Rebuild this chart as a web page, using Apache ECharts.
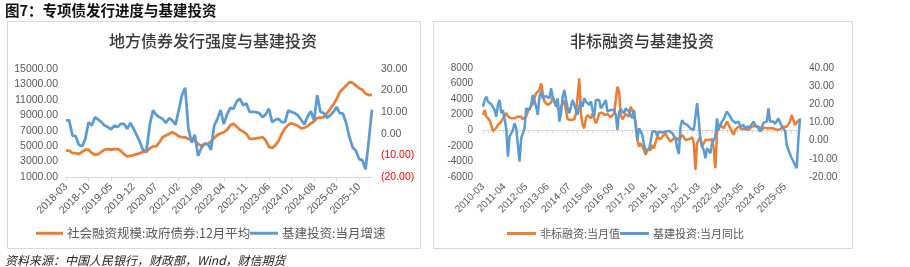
<!DOCTYPE html>
<html><head><meta charset="utf-8">
<script src="https://cdn.jsdelivr.net/npm/echarts@6/dist/echarts.min.js"></script>
<style>html,body{margin:0;padding:0;background:#fff}#c{width:910px;height:267px}</style>
</head><body><div id="c"></div>
<script>
// ---------- data ----------
function monthLabels(y, m, n) {
  const out = [];
  for (let k = 0; k < n; k++) {
    const mm = m - 1 + k;
    const yy = y + Math.floor(mm / 12);
    const mo = (mm % 12) + 1;
    out.push(yy + '-' + (mo < 10 ? '0' : '') + mo);
  }
  return out;
}
const leftCategories = monthLabels(2018, 3, 96);   // 2018-03 .. 2026-02
// right-chart category sequence as shown by its tick labels (2020-01/02 absent)
const rightCategories = [].concat(
  monthLabels(2010, 3, 118),  // 2010-03 .. 2019-12
  monthLabels(2020, 3, 12),   // 2020-03 .. 2021-02
  monthLabels(2021, 3, 13),   // 2021-03 .. 2022-03
  monthLabels(2022, 4, 13),   // 2022-04 .. 2023-04
  monthLabels(2023, 5, 13),   // 2023-05 .. 2024-05
  monthLabels(2024, 5, 13),   // 2024-05 .. 2025-05
  monthLabels(2025, 5, 10)    // 2025-05 .. 2026-02
);

// 社会融资规模:政府债券:12月平均 (left axis, 亿元)
const govBond12mAvg = [
  4405,4405,4100,4100,3970,4270,4540,4540,4100,3880,
  3970,4270,4540,4620,4540,4620,4620,4405,3970,3660,
  3750,3840,3970,4100,4270,4270,4710,4970,4970,5500,
  6150,6370,6585,6800,6585,6280,6150,6150,5930,5840,
  5710,5280,5060,5280,5280,5580,6050,6450,6650,6800,
  7100,7700,7890,7500,7110,6900,6600,5950,5930,6000,
  6060,6150,5750,4900,4750,5100,5700,6600,7300,7750,
  7980,7800,7650,7300,7370,7600,7950,8200,8680,8680,
  8760,9250,9800,10400,11100,12000,12450,12850,13300,13200,
  12850,12500,12300,11800,11650,11600
];
// 基建投资:当月增速 (right axis, %)
const infraGrowthLeft = [
  6.2,6.2,-0.8,-1.1,-5.2,-5.8,-2.4,5.4,3.8,7.7,
  6.6,5.4,3.8,3.1,2.0,3.8,3.1,4.6,4.6,2.3,
  5.0,2.3,-0.8,-4.0,-7.8,-7.5,4.0,10.9,8.8,7.7,
  6.9,5.0,7.2,6.2,4.2,10.9,17.9,21.3,2.3,-4.0,
  -0.5,-10.2,-6.7,-4.7,-4.7,-7.4,3.8,6.9,11.0,4.5,
  9.0,12.0,11.6,15.0,16.3,13.2,14.0,10.1,10.1,10.0,
  9.6,7.7,9.0,11.6,5.4,6.5,6.9,5.4,5.4,10.8,
  10.1,9.6,8.5,6.5,4.3,8.0,10.5,6.2,17.9,10.1,
  9.6,7.4,8.5,10.1,12.4,9.6,9.3,4.9,-1.6,-6.3,
  -7.8,-11.7,-12.2,-16.4,-3.2,11.2
];
// 非标融资:当月值 (left axis, 亿元)
const nonStandardMonthly = [
  1965,2600,1750,1500,1300,600,-100,0,300,700,
  900,1100,1300,1900,2200,1800,1750,1550,1500,1550,
  1700,1750,1900,1750,1400,1540,1750,2390,2820,3030,
  3380,4100,4750,4960,5180,6030,4750,3680,3460,3250,
  3460,3550,4320,4190,3250,2950,2610,3030,3460,3800,
  2610,1410,1200,1320,1320,1410,2180,4320,6670,2180,
  680,250,1540,1960,1750,1540,2180,1960,900,1410,
  2180,2390,2260,1960,1750,2090,1960,1660,1410,2180,
  3890,5600,4960,1960,1410,1540,2090,1960,1750,3030,
  2610,1750,1110,-1250,-2100,-1670,-1890,-2530,-3170,-2530,
  -2320,-2530,-1890,-2320,-2530,-820,-1030,-1160,-820,-600,
  -390,-900,-1160,-1460,-1670,-1030,-820,-1030,-1330,-1160,
  -600,-900,-1250,-1030,-1160,-1250,-900,-1670,-5100,-1670,
  -1160,-900,-2100,-1890,-1250,-1070,-1250,-1460,-1160,-2320,
  -4880,-180,250,680,900,250,680,1110,680,250,
  -180,-600,40,250,470,250,130,40,250,250,
  40,250,470,250,550,680,470,250,40,380,
  470,250,470,250,40,250,130,40,40,130,
  250,470,470,470,680,1110,1960,1320,680,680,
  1240,1320
];
// 基建投资:当月同比 (right axis, %)
const infraYoY = [
  18.7,22.4,24.2,21.5,20.6,20.0,19.7,16.9,13.2,19.7,
  22.4,15.1,16.9,16.9,6.8,-8.8,2.2,3.2,5.9,9.6,
  6.8,-2.3,-11.5,1.3,4.1,6.8,17.8,18.7,16.9,19.7,
  25.2,26.1,18.7,14.2,24.2,27.0,23.3,22.4,24.6,24.2,
  23.3,28.8,24.2,21.5,18.7,23.3,10.5,15.1,24.2,27.9,
  22.4,17.8,15.1,18.7,22.4,23.3,16.9,14.2,18.7,21.5,
  18.7,23.3,21.5,20.6,19.7,21.5,16.9,13.2,22.4,23.3,
  22.4,17.8,18.7,20.6,22.4,16.0,16.0,16.9,17.8,16.9,
  14.2,5.9,16.0,17.3,16.9,15.1,17.8,16.9,16.0,16.9,
  12.3,16.9,7.7,0.4,6.8,5.9,3.2,-2.3,-5.1,-5.1,
  -4.7,-0.5,5.0,5.5,5.0,2.6,5.0,5.5,4.4,5.0,
  5.0,5.9,5.4,4.4,4.1,5.0,1.3,-4.2,-7.3,7.7,
  11.4,9.6,8.7,8.7,7.7,6.8,6.8,5.9,5.9,20.6,
  11.4,0.4,-3.3,-5.1,-9.7,-4.2,-4.2,-6.9,-1.4,-2.3,
  2.2,12.3,5.9,8.7,10.5,11.8,14.2,16.0,16.9,13.2,
  11.4,11.8,9.6,9.9,10.5,7.7,8.1,8.7,5.9,7.7,
  8.7,7.7,8.7,10.5,8.7,8.1,6.8,5.0,7.7,9.9,
  9.2,10.5,17.8,10.5,9.9,10.5,9.2,9.6,12.3,9.9,
  8.1,7.7,5.5,-2.3,-5.1,-7.3,-9.7,-11.5,-13.3,-15.2,
  0.4,12.3
];

const figTitle = '图7：专项债发行进度与基建投资';
const leftTitle = '地方债券发行强度与基建投资';
const rightTitle = '非标融资与基建投资';
const sourceText = '资料来源：中国人民银行，财政部，Wind，财信期货';
const seriesNames = ['社会融资规模:政府债券:12月平均', '基建投资:当月增速', '非标融资:当月值', '基建投资:当月同比'];

// ---------- chart ----------
const ORANGE = '#ED7D31', BLUE = '#5B9BD5', GRAY = '#595959', LINE = '#D9D9D9';
const NUM = "'Liberation Sans', Arial, sans-serif";
const CJK = "'Noto Sans CJK SC', 'Noto Sans', sans-serif";

const chart = echarts.init(document.getElementById('c'), null, { renderer: 'canvas', width: 910, height: 267 });

function legendAt(name, left, top, fs, w) {
  return {
    data: [name], left: left, top: top, orient: 'horizontal',
    icon: 'rect', itemWidth: w, itemHeight: 3, itemGap: 0, padding: 0,
    textStyle: { color: GRAY, fontSize: fs, fontFamily: CJK, padding: [0, 0, 0, -1] },
    selectedMode: false
  };
}

const option = {
  animation: false,
  backgroundColor: '#fff',
  graphic: [
    { type: 'rect', shape: { x: 7.5, y: 21.5, width: 413, height: 227 }, style: { fill: 'none', stroke: LINE, lineWidth: 1 }, silent: true },
    { type: 'rect', shape: { x: 433.5, y: 21.5, width: 419, height: 227 }, style: { fill: 'none', stroke: LINE, lineWidth: 1 }, silent: true },
    { type: 'text', left: 5, top: 3, style: { text: figTitle, fill: '#111', font: "bold 14.5px 'Noto Sans CJK SC', sans-serif" } },
    { type: 'text', x: 213, y: 41, style: { text: leftTitle, fill: '#3a3a3a', font: "500 16px 'Noto Sans CJK SC', sans-serif", textAlign: 'center', textVerticalAlign: 'middle' } },
    { type: 'text', x: 642, y: 41, style: { text: rightTitle, fill: '#3a3a3a', font: "500 16px 'Noto Sans CJK SC', sans-serif", textAlign: 'center', textVerticalAlign: 'middle' } },
    { type: 'text', x: 5, y: 260, style: { text: sourceText, fill: '#222', font: "italic 12px 'Noto Sans CJK SC', sans-serif", textVerticalAlign: 'middle' } }
  ],
  legend: [
    legendAt(seriesNames[0], 36, 227, 12.5, 27),
    legendAt(seriesNames[1], 250, 227, 12.5, 28),
    legendAt(seriesNames[2], 507, 228, 11, 29),
    legendAt(seriesNames[3], 620, 228, 11, 29)
  ],
  grid: [
    { left: 66, top: 69, width: 306, height: 108, containLabel: false },
    { left: 483, top: 68, width: 317, height: 109, containLabel: false }
  ],
  xAxis: [
    {
      type: 'category', gridIndex: 0, data: leftCategories, boundaryGap: false, position: 'bottom',
      axisLine: { onZero: false, lineStyle: { color: LINE, width: 1 } },
      axisTick: { show: true, interval: 6, length: 4, lineStyle: { color: LINE } },
      axisLabel: { interval: 6, rotate: 45, margin: 8, color: GRAY, fontSize: 10.5, fontFamily: NUM },
      splitLine: { show: false }
    },
    {
      type: 'category', gridIndex: 1, data: rightCategories, boundaryGap: false, position: 'bottom',
      axisLine: { onZero: true, onZeroAxisIndex: 2, lineStyle: { color: LINE, width: 1 } },
      axisTick: { show: true, interval: 2, length: 3, lineStyle: { color: LINE } },
      axisLabel: { show: false },
      splitLine: { show: false }
    },
    {
      type: 'category', gridIndex: 1, data: rightCategories, boundaryGap: false, position: 'bottom', offset: 0,
      axisLine: { show: false, onZero: false },
      axisTick: { show: false },
      axisLabel: { interval: 12, rotate: 45, margin: 8, color: GRAY, fontSize: 10, fontFamily: NUM },
      splitLine: { show: false }
    }
  ],
  yAxis: [
    {
      type: 'value', gridIndex: 0, position: 'left', min: 1000, max: 15000, interval: 2000,
      axisLine: { show: false }, axisTick: { show: false }, splitLine: { show: false },
      axisLabel: { margin: 8, color: GRAY, fontSize: 10.5, fontFamily: NUM, formatter: v => v.toFixed(2) }
    },
    {
      type: 'value', gridIndex: 0, position: 'right', min: -20, max: 30, interval: 10,
      axisLine: { show: false }, axisTick: { show: false }, splitLine: { show: false },
      axisLabel: {
        margin: 9, color: GRAY, fontSize: 10.5, fontFamily: NUM,
        formatter: v => v < 0 ? '{r|(' + Math.abs(v).toFixed(2) + ')}' : Math.abs(v).toFixed(2),
        rich: { r: { color: '#FF0000', fontSize: 10.5, fontFamily: NUM } }
      }
    },
    {
      type: 'value', gridIndex: 1, position: 'left', min: -6000, max: 8000, interval: 2000,
      axisLine: { show: false }, axisTick: { show: false }, splitLine: { show: false },
      axisLabel: { margin: 10, color: GRAY, fontSize: 10, fontFamily: NUM, formatter: v => String(Math.round(v)) }
    },
    {
      type: 'value', gridIndex: 1, position: 'right', min: -20, max: 40, interval: 10,
      axisLine: { show: false }, axisTick: { show: false }, splitLine: { show: false },
      axisLabel: { margin: 9, color: GRAY, fontSize: 10, fontFamily: NUM, formatter: v => v.toFixed(2) }
    }
  ],
  series: [
    { name: seriesNames[0], type: 'line', xAxisIndex: 0, yAxisIndex: 0, data: govBond12mAvg, showSymbol: false, symbol: 'none', lineStyle: { color: ORANGE, width: 2.75 }, itemStyle: { color: ORANGE } },
    { name: seriesNames[1], type: 'line', xAxisIndex: 0, yAxisIndex: 1, data: infraGrowthLeft, showSymbol: false, symbol: 'none', lineStyle: { color: BLUE, width: 2.75 }, itemStyle: { color: BLUE } },
    { name: seriesNames[2], type: 'line', xAxisIndex: 1, yAxisIndex: 2, data: nonStandardMonthly, showSymbol: false, symbol: 'none', lineStyle: { color: ORANGE, width: 2.5 }, itemStyle: { color: ORANGE } },
    { name: seriesNames[3], type: 'line', xAxisIndex: 1, yAxisIndex: 3, data: infraYoY, showSymbol: false, symbol: 'none', lineStyle: { color: BLUE, width: 2.5 }, itemStyle: { color: BLUE } }
  ]
};
chart.setOption(option);
</script>
</body></html>
